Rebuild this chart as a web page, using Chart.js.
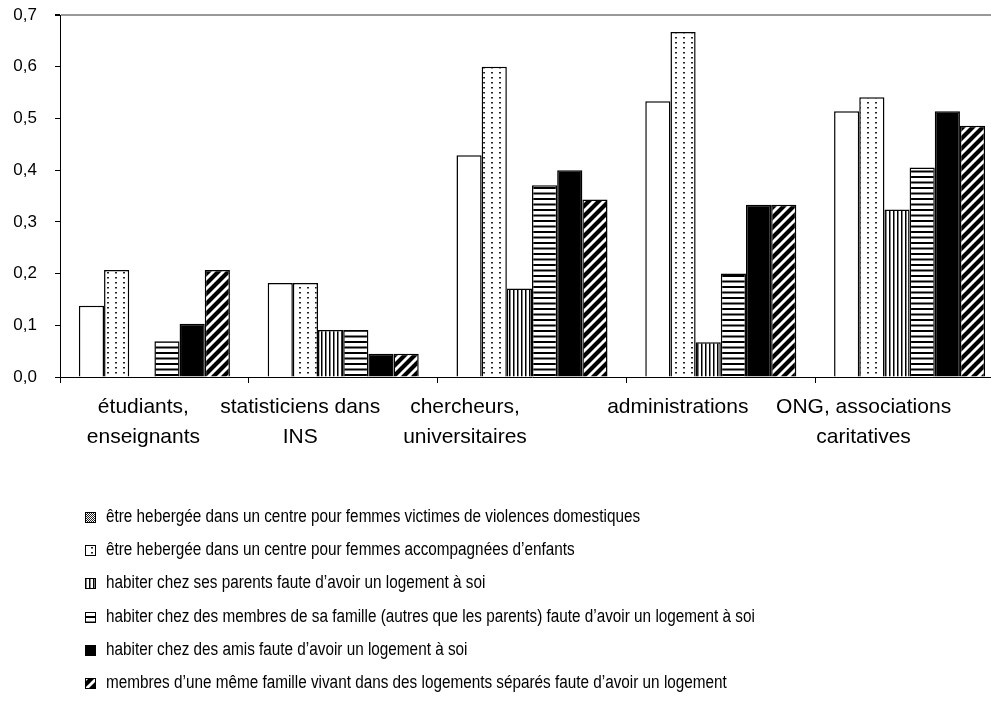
<!DOCTYPE html>
<html lang="fr">
<head>
<meta charset="utf-8">
<title>Hébergement faute de logement</title>
<script src="https://cdn.jsdelivr.net/npm/chart.js@4.4.1/dist/chart.umd.min.js"></script>
<style>
  html, body { margin: 0; padding: 0; background: #fff; }
  #wrap { width: 991px; height: 722px; overflow: hidden; position: relative; }
  #chart { display: block; }
</style>
</head>
<body>
<div id="wrap"><canvas id="chart" width="1010" height="722"></canvas></div>
<script>
// Categories (respondent groups), each as lines of text
const categories = [
  ['étudiants,', 'enseignants'],
  ['statisticiens dans', 'INS'],
  ['chercheurs,', 'universitaires'],
  ['administrations'],
  ['ONG, associations', 'caritatives']
];

// Series names
const seriesNames = [
  'être hebergée dans un centre pour femmes victimes de violences domestiques',
  'être hebergée dans un centre pour femmes accompagnées d’enfants',
  'habiter chez ses parents faute d’avoir un logement à soi',
  'habiter chez des membres de sa famille (autres que les parents) faute d’avoir un logement à soi',
  'habiter chez des amis faute d’avoir un logement à soi',
  'membres d’une même famille vivant dans des logements séparés faute d’avoir un logement'
];

// Shares per group
const victimesViolences  = [0.138, 0.182, 0.429, 0.533, 0.514];
const accompagneesEnfants = [0.207, 0.182, 0.600, 0.667, 0.541];
const chezParents        = [0.000, 0.091, 0.171, 0.067, 0.324];
const chezFamille        = [0.069, 0.091, 0.371, 0.200, 0.405];
const chezAmis           = [0.103, 0.045, 0.400, 0.333, 0.514];
const logementsSepares   = [0.207, 0.045, 0.343, 0.333, 0.486];

// Y axis ticks
const yTicks = [0, 0.1, 0.2, 0.3, 0.4, 0.5, 0.6, 0.7];

// ---- fill patterns ----
const canvas = document.getElementById('chart');
const mainCtx = canvas.getContext('2d');

function tile(w, h, draw) {
  const c = document.createElement('canvas');
  c.width = w; c.height = h;
  const g = c.getContext('2d');
  g.fillStyle = '#fff';
  g.fillRect(0, 0, w, h);
  draw(g);
  return mainCtx.createPattern(c, 'repeat');
}

const dotPattern = tile(8, 5, g => { g.fillStyle = '#222'; g.fillRect(3, 2, 2, 1.5); });
const vertPattern = tile(4, 4, g => { g.fillStyle = '#000'; g.fillRect(1, 0, 1.5, 4); });
const horizPattern = tile(4, 11, g => { g.fillStyle = '#000'; g.fillRect(0, 0, 4, 2); g.fillRect(0, 5.5, 4, 2); });
const hatchPattern = tile(10, 10, g => {
  g.strokeStyle = '#000'; g.lineWidth = 4.2;
  g.beginPath();
  g.moveTo(-1, 11); g.lineTo(11, -1);
  g.moveTo(-6, 6); g.lineTo(6, -6);
  g.moveTo(4, 16); g.lineTo(16, 4);
  g.stroke();
});
const checkerPattern = tile(2, 2, g => { g.fillStyle = '#222'; g.fillRect(0, 0, 1, 1); g.fillRect(1, 1, 1, 1); });

const seriesValues = [victimesViolences, accompagneesEnfants, chezParents, chezFamille, chezAmis, logementsSepares];
const barFills = ['#ffffff', dotPattern, vertPattern, horizPattern, '#000000', hatchPattern];
const keyFills = [checkerPattern, dotPattern, vertPattern, horizPattern, '#000000', hatchPattern];

const datasets = seriesValues.map((vals, i) => ({
  label: seriesNames[i],
  data: vals,
  backgroundColor: barFills[i],
  borderColor: '#000',
  borderWidth: 1.5,
  keyFill: keyFills[i]
}));

// ---- category labels under the axis ----
const labelNudge = [-11, -43, -67, -43, -46];
const categoryLabels = {
  id: 'categoryLabels',
  afterDraw(chart) {
    const ctx = chart.ctx;
    const xs = chart.scales.x;
    const base = chart.chartArea.bottom;
    ctx.save();
    ctx.fillStyle = '#000';
    ctx.font = '21px "Liberation Sans", Arial, sans-serif';
    ctx.textAlign = 'center';
    ctx.textBaseline = 'middle';
    categories.forEach((lines, i) => {
      const cx = xs.getPixelForValue(i) + labelNudge[i];
      lines.forEach((t, k) => ctx.fillText(t, cx, base + 30 + k * 30));
    });
    ctx.restore();
  }
};

// ---- vertical key below the chart (narrow lettering) ----
const keyList = {
  id: 'keyList',
  afterDraw(chart) {
    const ctx = chart.ctx;
    const top = chart.chartArea.bottom + 140;
    const squeeze = 0.85;
    ctx.save();
    ctx.textBaseline = 'middle';
    chart.data.datasets.forEach((ds, i) => {
      const y = Math.round(top + i * 33.2);
      ctx.fillStyle = ds.keyFill;
      ctx.fillRect(85, y - 5, 10, 10);
      ctx.strokeStyle = '#000';
      ctx.lineWidth = 1;
      ctx.strokeRect(85.5, y - 4.5, 10, 10);
      ctx.save();
      ctx.translate(106, y);
      ctx.scale(squeeze, 1);
      ctx.fillStyle = '#000';
      ctx.font = '18px "Liberation Sans", Arial, sans-serif';
      ctx.fillText(ds.label, 0, 0);
      ctx.restore();
    });
    ctx.restore();
  }
};

new Chart(canvas, {
  type: 'bar',
  data: { labels: categories.map(l => l.join(' ')), datasets },
  options: {
    responsive: false,
    animation: false,
    devicePixelRatio: 1,
    layout: { padding: { top: 15, right: 6, left: 0, bottom: 0 } },
    datasets: { bar: { categoryPercentage: 0.8, barPercentage: 1.0 } },
    plugins: { legend: { display: false }, tooltip: { enabled: false } },
    scales: {
      x: {
        offset: true,
        grid: { offset: true, drawOnChartArea: false, color: '#000', tickLength: 6, lineWidth: 1 },
        border: { color: '#000', width: 1 },
        ticks: { display: false },
        afterFit(s) { s.height = 345; }
      },
      y: {
        min: 0,
        max: 0.7,
        afterBuildTicks(s) { s.ticks = yTicks.map(v => ({ value: v })); },
        afterFit(s) { s.width = 60; s.paddingTop = 10; s.paddingBottom = 10; },
        border: { color: '#000', width: 1 },
        grid: {
          drawOnChartArea: true,
          tickLength: 5,
          tickColor: '#000',
          color: c => (c.tick && c.tick.value === 0.7) ? '#999' : 'rgba(0,0,0,0)',
          lineWidth: c => (c.tick && c.tick.value === 0.7) ? 2 : 1
        },
        ticks: {
          padding: 18,
          color: '#000',
          font: { family: '"Liberation Sans", Arial, sans-serif', size: 17 },
          callback: v => v.toFixed(1).replace('.', ',')
        }
      }
    }
  },
  plugins: [categoryLabels, keyList]
});
</script>
</body>
</html>
